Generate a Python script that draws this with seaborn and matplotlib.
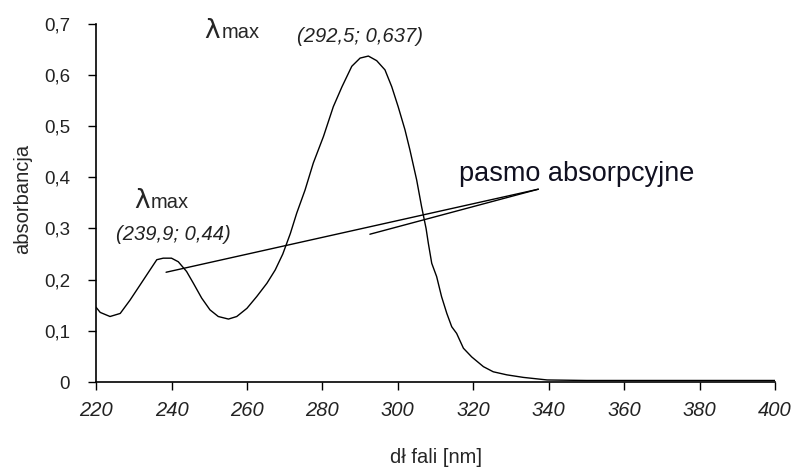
import matplotlib
matplotlib.use('Agg')
import matplotlib.pyplot as plt
import seaborn as sns
import pandas as pd

# Spectrum
wavelength = [220, 221.1, 223.7, 226.4, 229, 231.7, 234.3, 236.1, 237.8, 240, 241.8,
              244, 245.8, 248, 250.2, 252.4, 255.1, 257.3, 260, 262.6, 265.3,
              267.5, 269.5, 271.5, 273.2, 275.4, 277.6, 280.3, 282.9, 285.2, 287.8,
              290, 292.2, 294.4, 296.6, 298.4, 300.1, 301.9, 303.2, 305, 306.3,
              307.5, 308.1, 309, 310.3, 311.6, 313, 314.3, 315.6, 317.4, 319.6,
              322.7, 325.3, 328.9, 333.3, 339.6, 350, 370, 400]
absorbance = [0.146, 0.136, 0.128, 0.134, 0.160, 0.190, 0.219, 0.239, 0.242, 0.242, 0.235,
              0.216, 0.193, 0.164, 0.141, 0.128, 0.123, 0.128, 0.144, 0.167, 0.193,
              0.219, 0.250, 0.290, 0.330, 0.375, 0.428, 0.480, 0.538, 0.577, 0.617,
              0.633, 0.637, 0.628, 0.610, 0.577, 0.538, 0.493, 0.454, 0.395, 0.343,
              0.300, 0.271, 0.232, 0.206, 0.167, 0.134, 0.108, 0.095, 0.066, 0.049,
              0.030, 0.020, 0.014, 0.009, 0.004, 0.003, 0.003, 0.003]

yticks = [0, 0.1, 0.2, 0.3, 0.4, 0.5, 0.6, 0.7]
ytick_labels = ['0', '0,1', '0,2', '0,3', '0,4', '0,5', '0,6', '0,7']
xticks = [220, 240, 260, 280, 300, 320, 340, 360, 380, 400]

# pointer lines to "pasmo absorpcyjne"
pointer_start = [(238.56, 0.2145), (292.6, 0.2888)]
pointer_end = (337.26, 0.3768)

df = pd.DataFrame({'wl': wavelength, 'abs': absorbance})

sns.set_style('ticks')
plt.rcParams['font.family'] = ['Liberation Sans', 'DejaVu Sans']

fig = plt.figure(figsize=(7.94, 4.67), dpi=100)
ax = fig.add_axes([0.121, 0.182, 0.855, 0.767])

sns.lineplot(data=df, x='wl', y='abs', color='black', linewidth=1.0, ax=ax)

for sx, sy in pointer_start:
    ax.plot([sx, pointer_end[0]], [sy, pointer_end[1]], color='black', linewidth=1.0)

ax.set_xlim(220, 400)
ax.set_ylim(0, 0.7)
ax.set_xticks(xticks)
ax.set_xticklabels([str(x) for x in xticks], fontstyle='italic', fontsize=14.5)
ax.set_yticks(yticks)
ax.set_yticklabels(ytick_labels, fontsize=13.5)
ax.tick_params(direction='out', length=5.8, width=1, colors='black', labelcolor='#222222')
ax.tick_params(axis='x', pad=8)
ax.tick_params(axis='y', pad=13)
sns.despine(ax=ax)
for s in ['left', 'bottom']:
    ax.spines[s].set_color('black')
    ax.spines[s].set_linewidth(1.2)

ax.set_xlabel('dł fali [nm]', fontsize=14.5, va='top')
ax.xaxis.set_label_coords(0.5, -0.184)
ax.set_ylabel('absorbancja', fontsize=14.5)
ax.yaxis.set_label_coords(-0.094, 0.511)

# annotations
ax.text(248.6, 0.6717, 'λ', fontsize=19, family='DejaVu Sans', ha='left', va='baseline')
ax.text(253.4, 0.6717, 'max', fontsize=14.5, ha='left', va='baseline')
ax.text(273.2, 0.6654, '(292,5; 0,637)', fontsize=14.5, fontstyle='italic',
        color='#222222', ha='left', va='baseline')
ax.text(230.07, 0.3402, 'λ', fontsize=19, family='DejaVu Sans', ha='left', va='baseline')
ax.text(234.6, 0.3402, 'max', fontsize=14.5, ha='left', va='baseline')
ax.text(225.4, 0.2777, '(239,9; 0,44)', fontsize=14.5, fontstyle='italic',
        color='#222222', ha='left', va='baseline')
ax.text(316.3, 0.3936, 'pasmo absorpcyjne', fontsize=19.5, color='#101020',
        ha='left', va='baseline')

fig.savefig('out.png', dpi=100)
